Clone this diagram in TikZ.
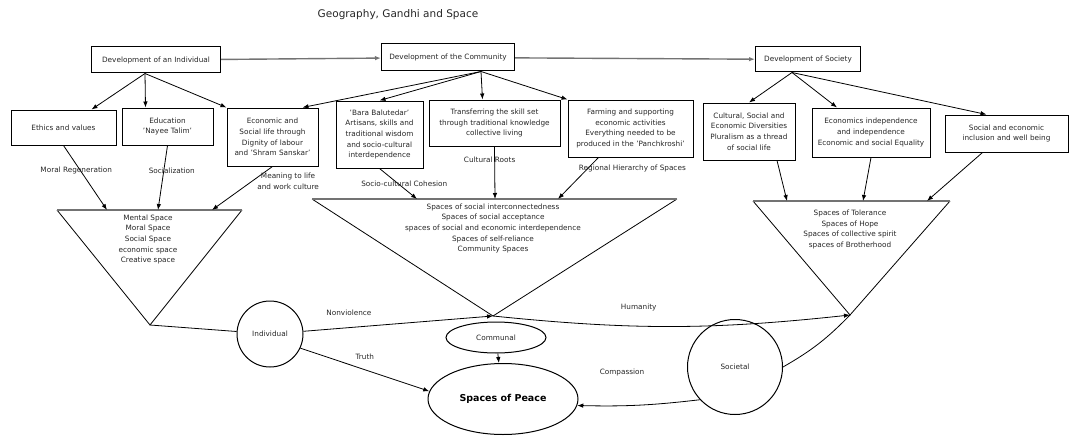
\documentclass[tikz,border=0pt]{standalone}
\usepackage{fontspec}
\setmainfont{DejaVu Sans}
\usetikzlibrary{arrows.meta,shapes.geometric}
\tikzset{
  txt/.style={font=\fontsize{7.3}{10.7}\selectfont, text=black!85, align=center},
  blk/.style={txt, draw, line width=1pt, inner sep=1pt},
  lbl/.style={txt, inner sep=1pt},
  ln/.style={line width=0.8pt},
  arr/.style={ln, -{Latex[length=6pt,width=4.5pt]}},
  hl/.style={draw=black!55, line width=1.4pt, -{Latex[length=6pt,width=4.5pt]}},
  rim/.style={draw=black!55, line width=1.8pt}
}
\begin{document}
\begin{tikzpicture}[x=1pt,y=-1pt]
    \useasboundingbox (0,0) rectangle (1071,436);
    \node[txt, font=\fontsize{10.5}{12}\selectfont] (title) at (398,15) {Geography, Gandhi and Space};

    \node[blk, minimum width=129pt, minimum height=26pt] (indiv) at (156,60) {Development of an Individual};
    \node[blk, minimum width=133pt, minimum height=27pt] (commun) at (448,57.5) {Development of the Community};
    \node[blk, minimum width=105pt, minimum height=25pt] (societ) at (808,59.5) {Development of Society};
    \draw[hl] (indiv) -- (commun);
    \draw[hl] (commun) -- (societ);

    \node[blk, minimum width=105pt, minimum height=35pt] (ethics) at (63.5,127.5) {Ethics and values};
    \node[blk, minimum width=91pt, minimum height=37pt] (educ) at (167.5,126.5) {Education\\'Nayee Talim'};
    \node[blk, minimum width=91pt, minimum height=58pt] (econ) at (272.5,137) {Economic and\\Social life through\\Dignity of labour\\and 'Shram Sanskar'};
    \node[blk, minimum width=87pt, minimum height=67pt] (bara) at (379.5,134.5) {'Bara Balutedar'\\Artisans, skills and\\traditional wisdom\\and socio-cultural\\interdependence};
    \node[blk, minimum width=131pt, minimum height=46pt] (transf) at (494.5,123) {Transferring the skill set\\through traditional knowledge\\collective living};
    \node[blk, minimum width=125pt, minimum height=57pt] (farm) at (630.5,128.5) {Farming and supporting\\economic activities\\Everything needed to be\\produced in the 'Panchkroshi'};
    \node[blk, minimum width=92pt, minimum height=57pt] (cult) at (749,131.5) {Cultural, Social and\\Economic Diversities\\Pluralism as a thread\\of social life};
    \node[blk, minimum width=118pt, minimum height=49pt] (econind) at (871,132.5) {Economics independence\\and independence\\Economic and social Equality};
    \node[blk, minimum width=123pt, minimum height=37pt] (incl) at (1006.5,133.5) {Social and economic\\inclusion and well being};

    \coordinate (ib) at ([xshift=-11pt]indiv.south);
    \draw[arr] (ib) -- ([xshift=28pt]ethics.north);
    \draw[arr] (ib) -- ([xshift=-22pt]educ.north);
    \draw[arr] (ib) -- (econ.north west);
    \coordinate (cb) at ([xshift=33pt]commun.south);
    \draw[arr] (cb) -- ([xshift=30pt]econ.north);
    \draw[arr] (cb) -- (bara.north);
    \draw[arr] (cb) -- ([xshift=-12pt]transf.north);
    \draw[arr] (cb) -- (farm.north west);
    \coordinate (sb) at ([xshift=-16pt]societ.south);
    \draw[arr] (sb) -- (cult.north);
    \draw[arr] (sb) -- ([xshift=-34pt]econind.north);
    \draw[arr] (sb) -- ([xshift=-20pt]incl.north);

    \draw[ln] (57,210) coordinate (mlft) -- (150,325) coordinate (mtip) -- (242,210) coordinate (mrgt);
    \draw[rim] (mlft) -- (mrgt);
    \draw[ln] (312,199) coordinate (clft) -- (493,316) coordinate (ctip) -- (677,199) coordinate (crgt);
    \draw[rim] (clft) -- (crgt);
    \draw[ln] (753,201) coordinate (slft) -- (850,315) coordinate (stip) -- (950,201) coordinate (srgt);
    \draw[rim] (slft) -- (srgt);

    \node[txt] (mspaces) at (148,239.5) {Mental Space\\Moral Space\\Social Space\\economic space\\Creative space};
    \node[txt] (cspaces) at (493,228.5) {Spaces of social interconnectedness\\Spaces of social acceptance\\spaces of social and economic interdependence\\Spaces of self-reliance\\Community Spaces};
    \node[txt] (sspaces) at (850,229.5) {Spaces of Tolerance\\Spaces of Hope\\Spaces of collective spirit\\spaces of Brotherhood};

    \coordinate (m1) at (107,210);
    \coordinate (m2) at (158,210);
    \coordinate (m3) at (212,210);
    \draw[arr] (ethics.south) -- node[lbl, pos=.385, xshift=-4pt] (lmoral) {Moral Regeneration} (m1);
    \draw[arr] (educ.south) -- node[lbl, pos=.385, xshift=8pt] (lsocial) {Socialization} (m2);
    \draw[arr] (econ.south) -- node[lbl, pos=.34, anchor=west, xshift=4pt] (lmean) {Meaning to life\\and work culture} (m3);

    \coordinate (c1) at (417,199);
    \coordinate (c2) at (495,199);
    \coordinate (c3) at (558,199);
    \draw[arr] (bara.south) -- node[lbl, pos=.5, xshift=6pt] (lcohes) {Socio-cultural Cohesion} (c1);
    \draw[arr] (transf.south) -- node[lbl, pos=.25, xshift=-5pt] (lroots) {Cultural Roots} (c2);
    \draw[arr] ([xshift=-32pt]farm.south) -- node[lbl, pos=.27, anchor=west, xshift=-10pt] (lhier) {Regional Hierarchy of Spaces} (c3);

    \coordinate (s1) at (787,201);
    \coordinate (s2) at (863,201);
    \coordinate (s3) at (927,201);
    \draw[arr] ([xshift=28pt]cult.south) -- (s1);
    \draw[arr] (econind.south) -- (s2);
    \draw[arr] ([xshift=-24pt]incl.south) -- (s3);

    \node[blk, circle, minimum size=66pt, inner sep=0pt] (indv) at (270,334) {Individual};
    \node[blk, ellipse, minimum width=100pt, minimum height=31pt, inner sep=0pt] (comm) at (496,337.5) {Communal};
    \node[blk, ellipse, minimum width=150pt, minimum height=71pt, inner sep=0pt, font=\fontsize{9.5}{11}\selectfont\bfseries, text=black] (peace) at (503,399) {Spaces of Peace};
    \node[blk, circle, minimum size=95pt, inner sep=0pt] (soc) at (735,367) {Societal};

    \draw[ln] (mtip) -- (indv);
    \draw[arr] (indv) -- node[lbl, pos=.24, above=11pt] (lnonv) {Nonviolence} (ctip);
    \draw[arr] (ctip) to[bend right=6] node[lbl, pos=.4, above=14pt] (lhuman) {Humanity} (stip);
    \draw[ln] (soc.east) to[bend right=8] (stip);
    \draw[arr] (indv.-25) -- node[lbl, pos=.5, above=9pt] (ltruth) {Truth} (peace.174);
    \draw[arr] (comm) -- (peace);
    \draw[arr] (soc.223) to[bend left=4] (peace.-5);
    \node[lbl] (lcompas) at (622,372) {Compassion};
\end{tikzpicture}
\end{document}
